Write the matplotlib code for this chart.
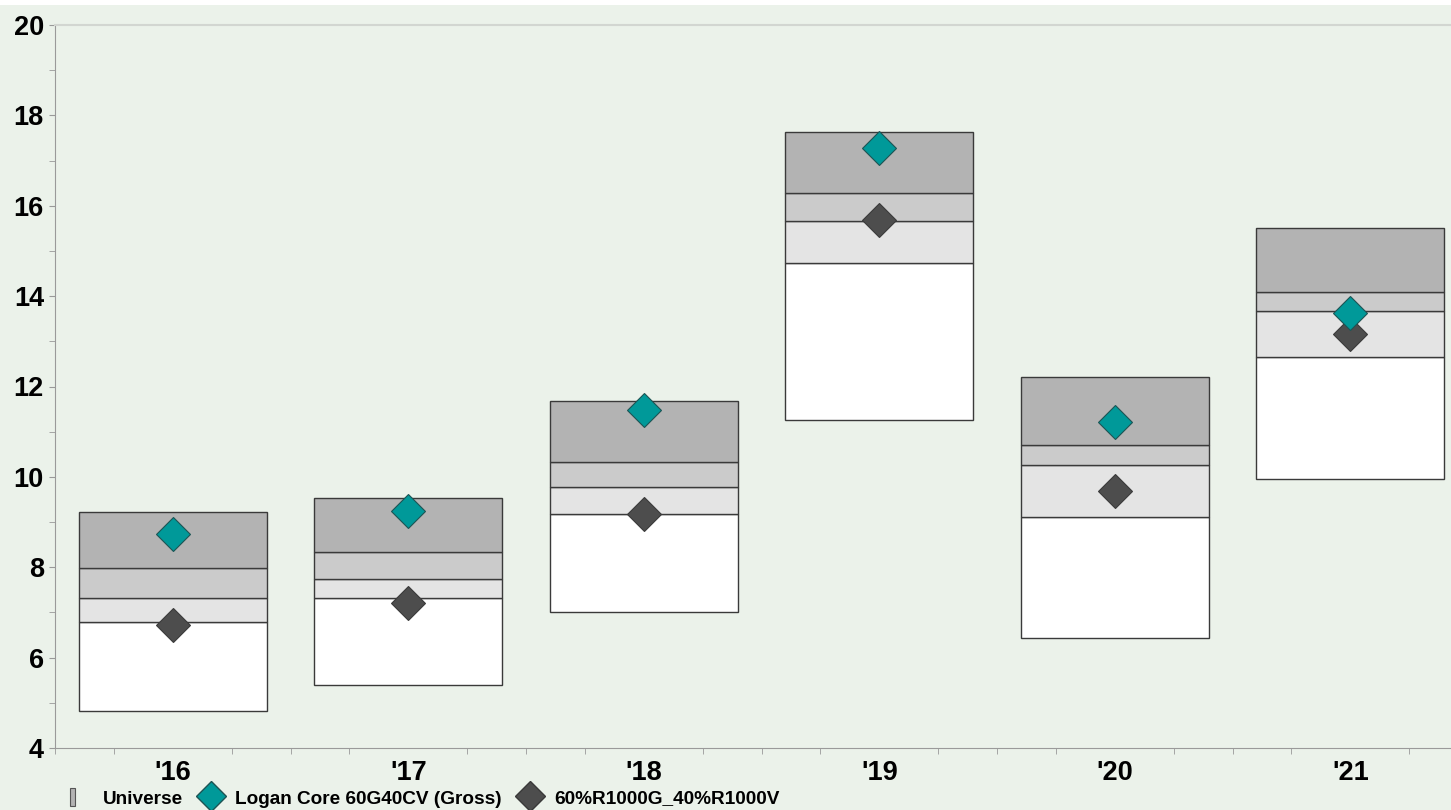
import matplotlib.pyplot as plt
import numpy as np
from matplotlib.patches import Patch, Rectangle
from matplotlib.lines import Line2D
from matplotlib.ticker import MultipleLocator

plt.rcParams['font.family'] = ['Liberation Sans', 'DejaVu Sans']

years = ["'16", "'17", "'18", "'19", "'20", "'21"]
# universe percentiles: 5th, 25th, median, 75th, 95th
p05 = [4.82, 5.40, 7.01, 11.26, 6.44, 9.95]
p25 = [6.79, 7.32, 9.18, 14.73, 9.11, 12.65]
p50 = [7.32, 7.74, 9.78, 15.66, 10.26, 13.67]
p75 = [7.98, 8.34, 10.33, 16.28, 10.71, 14.09]
p95 = [9.22, 9.53, 11.68, 17.63, 12.21, 15.51]
logan = [8.74, 9.24, 11.48, 17.28, 11.22, 13.63]
bench = [6.72, 7.21, 9.18, 15.68, 9.69, 13.16]

bg = '#ebf2ea'
fig = plt.figure(figsize=(14.51, 8.10), dpi=100, facecolor=bg)
fig.patches.append(Rectangle((0, 1 - 5 / 810), 1, 5 / 810, transform=fig.transFigure,
                             facecolor='white', edgecolor='none', zorder=0))

ax = fig.add_axes([55 / 1451, 1 - 748 / 810, (1451 - 55) / 1451, (748 - 25) / 810])
ax.set_facecolor(bg)

x = np.arange(len(years))
w = 0.8
bands = [(p05, p25, 'white'), (p25, p50, '#e4e4e4'), (p50, p75, '#cbcbcb'), (p75, p95, '#b3b3b3')]
for a, b, c in bands:
    a = np.array(a)
    b = np.array(b)
    ax.bar(x, b - a, bottom=a, width=w, color=c, edgecolor='#3a3a3a', linewidth=1, zorder=2)

ax.plot(x, logan, ls='', marker='D', ms=17.5, mfc='#009999', mec='#1d5454', mew=0.8, zorder=4)
ax.plot(x, bench, ls='', marker='D', ms=17.5, mfc='#4d4d4d', mec='#3a3a3a', mew=0.8, zorder=3)

ax.set_xlim(-0.5, (1451 - 55) / 235.5 - 0.5)
ax.set_ylim(4, 20)
ax.set_xticks(x)
ax.set_xticklabels(years)
ax.xaxis.set_minor_locator(MultipleLocator(0.25))
ax.yaxis.set_major_locator(MultipleLocator(2))
ax.yaxis.set_minor_locator(MultipleLocator(1))
ax.tick_params(axis='x', which='major', length=0, pad=9, labelsize=19.5)
ax.tick_params(axis='x', which='minor', length=4, color='#999999', direction='out')
ax.tick_params(axis='y', which='both', length=4, color='#999999', pad=4, labelsize=19.5)
for lab in ax.get_xticklabels() + ax.get_yticklabels():
    lab.set_fontweight('bold')

ax.spines['right'].set_visible(False)
ax.spines['top'].set_color('#d2d6d1')
ax.spines['top'].set_linewidth(1.5)
ax.spines['left'].set_color('#9a9a9a')
ax.spines['bottom'].set_color('#9a9a9a')

handles = [
    Patch(facecolor='#b3b3b3', edgecolor='#555555', linewidth=0.8),
    Line2D([], [], ls='', marker='D', ms=15, mfc='#009999', mec='#1d5454'),
    Line2D([], [], ls='', marker='D', ms=15, mfc='#4d4d4d', mec='#3a3a3a'),
]
labels = ['Universe', 'Logan Core 60G40CV (Gross)', '60%R1000G_40%R1000V']
leg = fig.legend(handles, labels, loc='center left', bbox_to_anchor=(62 / 1451, 1 - 798 / 810),
                 ncol=3, frameon=False, handlelength=0.9, handleheight=1.0,
                 handletextpad=0.85, columnspacing=1.0, borderaxespad=0,
                 prop={'weight': 'bold', 'size': 13.7})
leg.legend_handles[0].set_width(4)

fig.savefig('out.png', dpi=100, facecolor=bg)
